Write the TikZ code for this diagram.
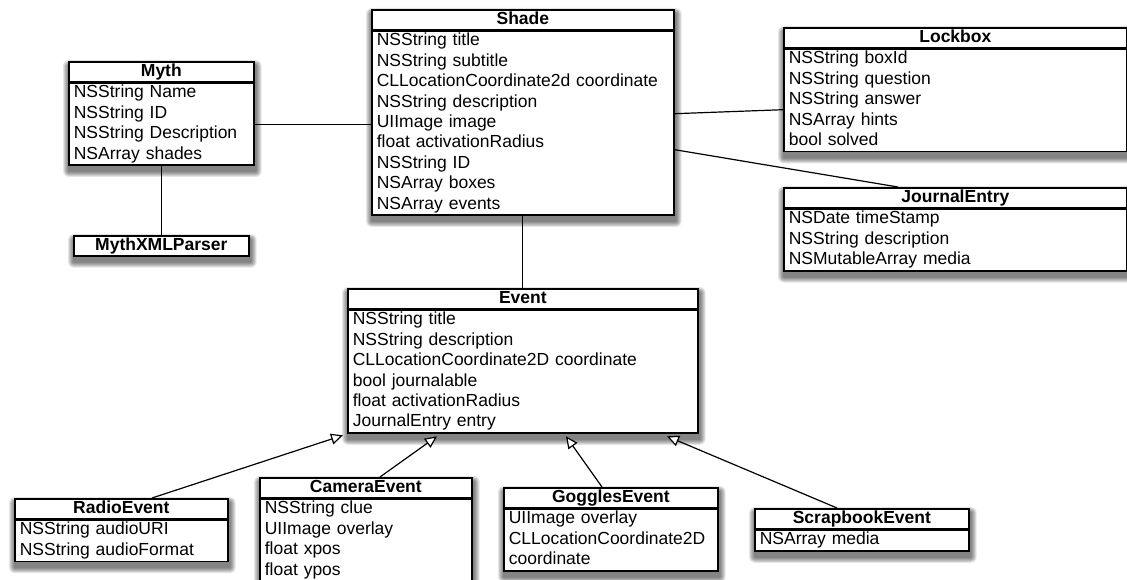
\documentclass[tikz,border=0pt]{standalone}
\usepackage{fontspec}
\setmainfont{Liberation Sans}
\usetikzlibrary{calc,arrows.meta,backgrounds}

\newcommand\boxshadow[2]{%
  \begin{pgfonlayer}{background}
    \foreach \k in {1,...,6}{%
      \fill[black,opacity=0.1,rounded corners=\k pt]
        ($(#1.north west)+(1-\k,5-\k)$) rectangle ($(#2.south east)+(1+\k,5+\k)$);}
  \end{pgfonlayer}}

\tikzset{
  hdr/.style={draw, line width=1.7pt, fill=white, minimum height=20pt, inner sep=0pt,
    anchor=north west, text height=12.5pt, text depth=3.5pt,
    font=\fontsize{17.5}{20.4}\selectfont\bfseries},
  bdy/.style={draw, line width=1.7pt, fill=white, inner xsep=5pt, inner ysep=0pt,
    anchor=north, align=left, font=\fontsize{17.5}{20.4}\selectfont},
  lnk/.style={line width=1.2pt},
  inh/.style={line width=1.2pt, -{Triangle[open,length=12pt,width=11pt,fill=white]}},
}

\begin{document}
\begin{tikzpicture}[x=1pt,y=-1pt]
\useasboundingbox (0,0) rectangle (1127,580);
\begin{pgfonlayer}{background}
  \fill[white] (0,0) rectangle (1127,580);
\end{pgfonlayer}

% Myth
\node[hdr, minimum width=185pt] (mythH) at (68,61) {Myth};
\node[bdy, text width=175pt] (mythB) at (mythH.south) {\strut NSString Name\\\strut NSString ID\\\strut NSString Description\\\strut NSArray shades};
\boxshadow{mythH}{mythB}

% MythXMLParser
\node[hdr, minimum width=175pt] (parser) at (73,235) {MythXMLParser};
\boxshadow{parser}{parser}

% Shade
\node[hdr, minimum width=302pt] (shadeH) at (371,9) {Shade};
\node[bdy, text width=292pt] (shadeB) at (shadeH.south) {\strut NSString title\\\strut NSString subtitle\\\strut CLLocationCoordinate2d coordinate\\\strut NSString description\\\strut UIImage image\\\strut float activationRadius\\\strut NSString ID\\\strut NSArray boxes\\\strut NSArray events};
\boxshadow{shadeH}{shadeB}

% Lockbox
\node[hdr, minimum width=343pt] (lockH) at (783,27) {Lockbox};
\node[bdy, text width=333pt] (lockB) at (lockH.south) {\strut NSString boxId\\\strut NSString question\\\strut NSString answer\\\strut NSArray hints\\\strut bool solved};
\boxshadow{lockH}{lockB}

% JournalEntry
\node[hdr, minimum width=343pt] (journalH) at (783,187) {JournalEntry};
\node[bdy, text width=333pt] (journalB) at (journalH.south) {\strut NSDate timeStamp\\\strut NSString description\\\strut NSMutableArray media};
\boxshadow{journalH}{journalB}

% Event
\node[hdr, minimum width=350pt] (eventH) at (347,288) {Event};
\node[bdy, text width=340pt] (eventB) at (eventH.south) {\strut NSString title\\\strut NSString description\\\strut CLLocationCoordinate2D coordinate\\\strut bool journalable\\\strut float activationRadius\\\strut JournalEntry entry};
\boxshadow{eventH}{eventB}

% RadioEvent
\node[hdr, minimum width=213pt] (radioH) at (14,498) {RadioEvent};
\node[bdy, text width=203pt] (radioB) at (radioH.south) {\strut NSString audioURI\\\strut NSString audioFormat};
\boxshadow{radioH}{radioB}

% CameraEvent
\node[hdr, minimum width=212pt] (cameraH) at (259,477) {CameraEvent};
\node[bdy, text width=202pt] (cameraB) at (cameraH.south) {\strut NSString clue\\\strut UIImage overlay\\\strut float xpos\\\strut float ypos};
\boxshadow{cameraH}{cameraB}

% GogglesEvent
\node[hdr, minimum width=214pt] (gogglesH) at (503,487) {GogglesEvent};
\node[bdy, text width=204pt] (gogglesB) at (gogglesH.south) {\strut UIImage overlay\\\strut CLLocationCoordinate2D\\\strut coordinate};
\boxshadow{gogglesH}{gogglesB}

% ScrapbookEvent
\node[hdr, minimum width=214pt] (scrapH) at (754,508) {ScrapbookEvent};
\node[bdy, text width=204pt] (scrapB) at (scrapH.south) {\strut NSArray media};
\boxshadow{scrapH}{scrapB}

% associations
\draw[lnk] (mythB.east) -- (mythB.east -| shadeB.west);
\draw[lnk] (mythB.south) -- (parser.north);
\draw[lnk] ($(shadeB.north east)+(0,83)$) -- ($(lockB.north west)+(0,61)$);
\draw[lnk] ($(shadeB.north east)+(0,119)$) -- ($(journalH.north west)+(115,0)$);
\draw[lnk] (shadeB.south) -- (eventH.north);

% generalisations
\draw[inh] ($(radioH.north west)+(138,0)$) -- ($(eventB.south west)+(-4,1.5)$);
\draw[inh] ($(cameraH.north west)+(121,0)$) -- ($(eventB.south west)+(90,2.5)$);
\draw[inh] ($(gogglesH.north west)+(99,0)$) -- ($(eventB.south west)+(219,2.5)$);
\draw[inh] ($(scrapH.north west)+(83,0)$) -- ($(eventB.south west)+(320,2.5)$);
\end{tikzpicture}
\end{document}
